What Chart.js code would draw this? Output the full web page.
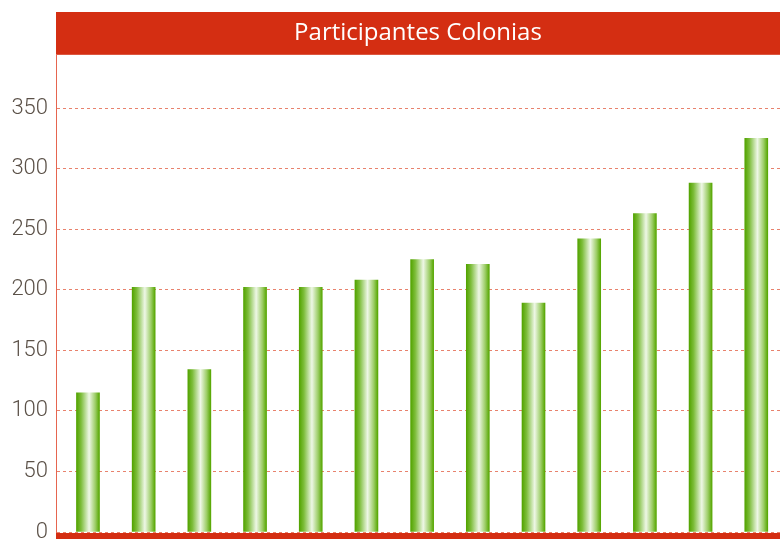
<!DOCTYPE html>
<html>
<head>
<meta charset="utf-8">
<script src="https://cdn.jsdelivr.net/npm/chart.js@4"></script>
<style>
  html, body { margin: 0; padding: 0; background: #fff; overflow: hidden; }
</style>
</head>
<body>
<canvas id="bars" width="780" height="539"></canvas>
<script>
// participants per edition (no category labels shown)
var editions = [1, 2, 3, 4, 5, 6, 7, 8, 9, 10, 11, 12, 13];
var participants = [115, 202, 134, 202, 202, 208, 225, 221, 189, 242, 263, 288, 325];
var yTicks = [0, 50, 100, 150, 200, 250, 300, 350];

var RED = '#d42e12';

// red band behind the title and along the bottom
var framePlugin = {
    id: 'frame',
    beforeDraw: function(chart) {
        var c = chart.ctx, t = chart.titleBlock, a = chart.chartArea;
        c.save();
        c.fillStyle = RED;
        c.fillRect(a.left, t.top, chart.width - a.left, t.height);
        c.restore();
    },
    afterDatasetsDraw: function(chart) {
        var c = chart.ctx, a = chart.chartArea;
        c.save();
        c.fillStyle = RED;
        c.fillRect(a.left, a.bottom + 1, chart.width - a.left, chart.height - a.bottom);
        c.restore();
    }
};

function barGradient(ctx) {
    var chart = ctx.chart;
    if (!chart.chartArea || !ctx.parsed) return '#6cb41c';
    var cx = chart.scales.x.getPixelForValue(ctx.parsed.x);
    var g = chart.ctx.createLinearGradient(cx - 11.5, 0, cx + 11.5, 0);
    g.addColorStop(0, '#52a300');
    g.addColorStop(0.2, '#7dbd3a');
    g.addColorStop(0.55, '#eef7e6');
    g.addColorStop(0.82, '#9ccd66');
    g.addColorStop(1, '#55a600');
    return g;
}

var chart = new Chart(document.getElementById('bars').getContext('2d'), {
    type: 'bar',
    data: {
        datasets: [{
            label: 'Participantes',
            data: participants.map(function(v, i) { return { x: i, y: v }; }),
            backgroundColor: barGradient,
            borderWidth: 0,
            barThickness: 23
        }]
    },
    options: {
        responsive: false,
        animation: false,
        layout: { autoPadding: false, padding: { top: 12, bottom: 7, left: 0, right: 0 } },
        plugins: {
            legend: { display: false },
            tooltip: { enabled: false },
            title: {
                display: true,
                fullSize: false,
                text: 'Participantes Colonias',
                color: '#ffffff',
                font: { family: 'Open Sans', size: 24, weight: 'normal' },
                padding: { top: 7, bottom: 7 }
            }
        },
        scales: {
            x: {
                type: 'linear',
                display: false,
                offset: false,
                min: -0.574,
                max: editions.length - 0.574
            },
            y: {
                min: 0,
                max: 394,
                afterBuildTicks: function(scale) {
                    scale.ticks = yTicks.map(function(v) { return { value: v }; });
                },
                afterFit: function(scale) {
                    scale.width = 56;
                    // let the "0" label run off the bottom edge like the original
                    scale.paddingTop = 0;
                    scale.paddingBottom = 0;
                },
                grid: {
                    color: '#e8826d',
                    lineWidth: 1,
                    drawTicks: false
                },
                border: { color: '#e6654f', width: 1, dash: [3, 3] },
                ticks: {
                    padding: 8,
                    color: '#5b5148',
                    font: { family: 'Roboto', size: 22, weight: '300' }
                }
            }
        }
    },
    plugins: [framePlugin]
});
</script>
</body>
</html>
